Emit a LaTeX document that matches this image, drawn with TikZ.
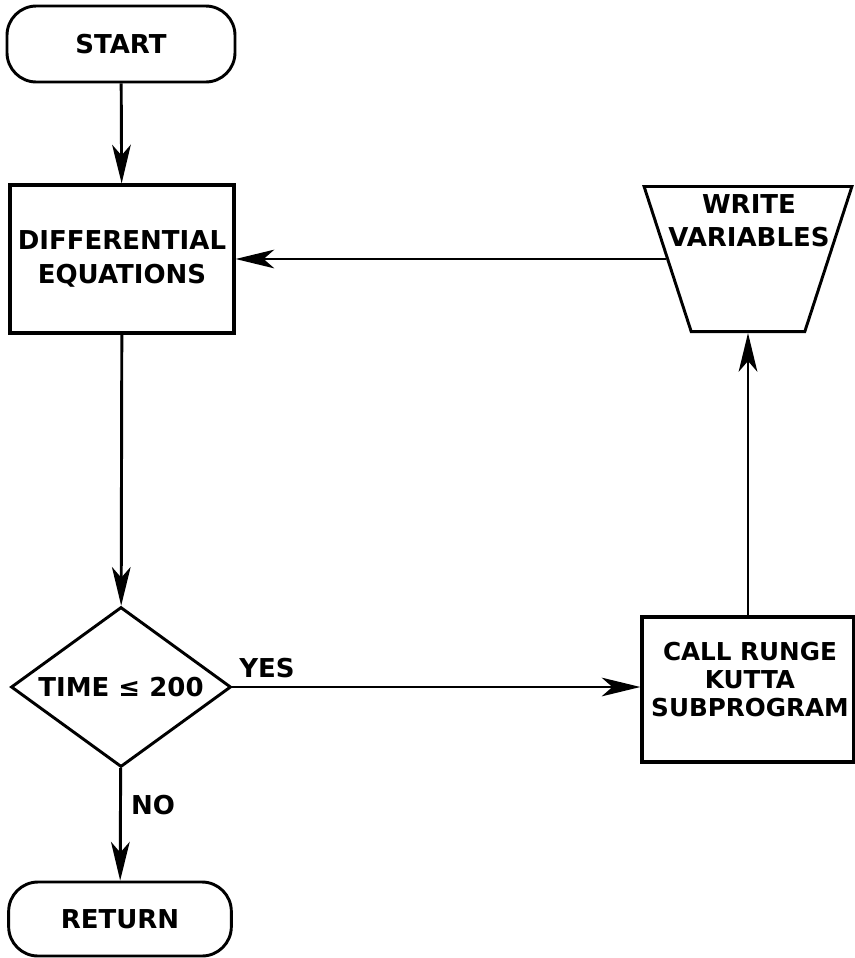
\documentclass[tikz,border=0pt]{standalone}
\usepackage{fontspec}
\newfontfamily\flowfont{DejaVu Sans}
\usetikzlibrary{arrows.meta,shapes.geometric}

\begin{document}
\begin{tikzpicture}[x=0.75pt, y=-0.75pt,
	every node/.style={font=\flowfont\bfseries\fontsize{19.5}{25}\selectfont, inner sep=0pt, align=center},
	term/.style={draw, line width=2.2pt, rectangle, rounded corners=22pt, minimum width=171pt, minimum height=57pt},
	proc/.style={draw, line width=2.4pt, rectangle, minimum width=168pt, minimum height=111pt},
	test/.style={draw, line width=2.2pt, diamond, aspect=1.375, minimum width=165pt, minimum height=120pt},
	io/.style={draw, line width=2.2pt, trapezium, trapezium angle=72, shape border rotate=180, inner xsep=42.6pt, inner ysep=54.4pt},
	arr/.style={line width=2.2pt, -{Stealth[length=29pt, width=14pt, inset=8pt]}}]
	\useasboundingbox (0,0) rectangle (855,958);
	% left column
	\node[term] (start) at (121,44) {START};
	\node[proc, font=\flowfont\bfseries\fontsize{19.5}{26}\selectfont] (de) at (122,259) {DIFFERENTIAL\\EQUATIONS};
	\node[test] (t) at (121,687) {TIME ≤ 200};
	\node[term, minimum width=167pt, minimum height=55.5pt] (ret) at (120,919) {RETURN};
	% right column
	\node[proc, minimum width=159pt, minimum height=108.75pt] (cr) at (748,689.5) {};
	\node[font=\flowfont\bfseries\fontsize{18.5}{21}\selectfont] (crtext) at (750,680) {CALL RUNGE\\KUTTA\\SUBPROGRAM};
	\node[io] (wv) at (748,259) {};
	\node[font=\flowfont\bfseries\fontsize{19.5}{25}\selectfont] (wvtext) at (749,221) {WRITE\\VARIABLES};
	% connectors
	\draw[arr] (start) -- (de);
	\draw[arr] (de) -- (t);
	\draw[arr] (t) -- (ret);
	\draw[arr, line width=1.8pt] (t.east) -- (t.east -| cr.west);
	\draw[arr] (cr) -- (wv);
	\draw[arr, line width=1.8pt] (wv) -- (de);
	\node (yes) at (267,668) {YES};
	\node (no) at (153,805) {NO};
\end{tikzpicture}
\end{document}
